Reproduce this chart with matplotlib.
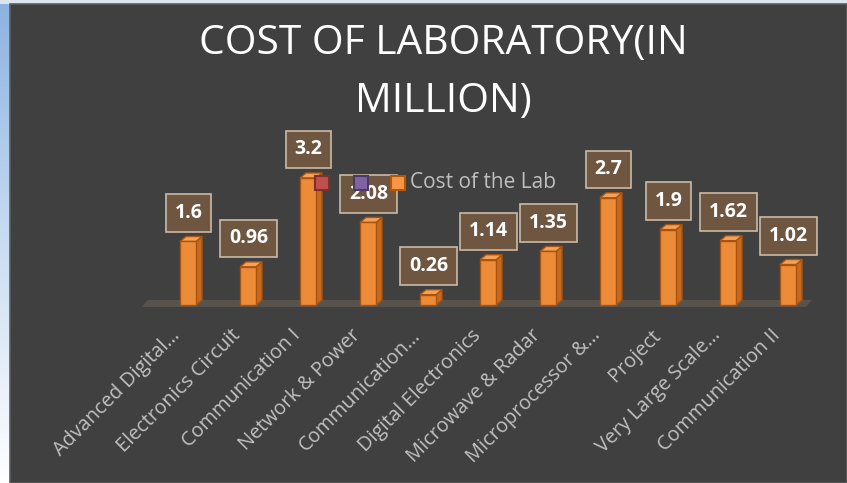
import matplotlib
matplotlib.use('Agg')
import matplotlib.pyplot as plt
import numpy as np
from matplotlib.patches import Polygon, Rectangle
from matplotlib.colors import LinearSegmentedColormap
from matplotlib.transforms import ScaledTranslation

categories = ["Advanced Digital…", "Electronics Circuit", "Communication I",
              "Network & Power", "Communication…", "Digital Electronics",
              "Microwave & Radar", "Microprocessor &…", "Project",
              "Very Large Scale…", "Communication II"]
costs = [1.6, 0.96, 3.2, 2.08, 0.26, 1.14, 1.35, 2.7, 1.9, 1.62, 1.02]
value_labels = ["1.6", "0.96", "3.2", "2.08", "0.26", "1.14", "1.35",
                "2.7", "1.9", "1.62", "1.02"]
series_name = "Cost of the Lab"
title_lines = ["COST OF LABORATORY(IN", "MILLION)"]

W, H = 847, 483
fig = plt.figure(figsize=(W / 100, H / 100), dpi=100)
fig.patch.set_facecolor('white')

# left gradient strip
gax = fig.add_axes([0, 0, 10 / W, 1], zorder=-10)
grad = np.linspace(0, 1, 256).reshape(-1, 1)
cmap = LinearSegmentedColormap.from_list('g', ['#8cb2e0', '#c9dcf2', '#ffffff'])
gax.imshow(grad, aspect='auto', cmap=cmap, extent=[0, 1, 0, 1], origin='upper')
gax.axis('off')

fig.patches.append(Rectangle((0, 1 - 4 / H), 1, 4 / H, transform=fig.transFigure,
                             facecolor='#dfe5ee', edgecolor='none', zorder=-8))
fig.patches.append(Rectangle((10 / W, 0), 1 - 10 / W, 1 - 4 / H, transform=fig.transFigure,
                             facecolor='#404040', edgecolor='#5e5e5e', lw=1.2, zorder=-7))

# main axes
base_px = 305
ppy = 39.7
ax = fig.add_axes([143 / W, (H - base_px) / H, 675 / W, 4 * ppy / H])
ax.set_xlim(-0.75, 10.5)
ax.set_ylim(0, 4)
ax.patch.set_alpha(0)
for s in ax.spines.values():
    s.set_visible(False)
ax.set_xticks([])
ax.set_yticks([])

# floor
floor = Polygon([(-0.77, -0.05), (10.3, -0.05), (10.4, 0.126), (-0.67, 0.126)],
                closed=True, facecolor='#57534c', edgecolor='none', zorder=1, clip_on=False)
ax.add_patch(floor)

w = 16 / 60
dx = 6 / 60
dy = 5 / ppy
x = np.arange(len(costs))
front_c = '#ec8c38'
side_c = '#c56a1f'
top_c = '#f3a25a'
edge_c = '#a9530f'

ax.bar(x, costs, width=w, color=front_c, edgecolor=edge_c, lw=1.0, zorder=3, clip_on=False)
for i, v in zip(x, costs):
    side = Polygon([(i + w / 2, 0), (i + w / 2 + dx, dy), (i + w / 2 + dx, v + dy), (i + w / 2, v)],
                   closed=True, facecolor=side_c, edgecolor=edge_c, lw=1.0, zorder=2.9, clip_on=False)
    top = Polygon([(i - w / 2, v), (i + w / 2, v), (i + w / 2 + dx, v + dy), (i - w / 2 + dx, v + dy)],
                  closed=True, facecolor=top_c, edgecolor=edge_c, lw=1.0, zorder=2.9, clip_on=False)
    ax.add_patch(side)
    ax.add_patch(top)

for i, v, lab in zip(x, costs, value_labels):
    ax.annotate(lab, xy=(i, v), xytext=(0.4, 20.5), textcoords='offset points',
                ha='center', va='center', fontsize=14, fontweight='bold',
                family='Open Sans', color='white', zorder=6,
                bbox=dict(boxstyle='square,pad=0.45', fc='#6e5641', ec='#c9baa7', lw=1.2),
                annotation_clip=False)

# category labels
for i, lab in zip(x, categories):
    tr = ax.transData + ScaledTranslation(-17.5 / 100, -20.5 / 100, fig.dpi_scale_trans)
    ax.text(i, 0, lab, transform=tr, rotation=45, ha='right', va='top',
            rotation_mode='anchor', fontsize=14.3, color='#c0c0c0', family='Open Sans')

# title
fig.text(443 / W, 1 - 54 / H, title_lines[0], ha='center', va='baseline',
         fontsize=29.3, color='white', family='Open Sans')
fig.text(443 / W, 1 - 112 / H, title_lines[1], ha='center', va='baseline',
         fontsize=29.3, color='white', family='Open Sans')

# legend (manual)
leg_y = 1 - 183 / H
leg_specs = [(322, '#c0504d', '#7d2f2c'), (361, '#8064a2', '#4b3a63'), (398, '#f79646', '#b65708')]
for px, fc, ec in leg_specs:
    fig.add_artist(plt.Line2D([px / W], [leg_y], transform=fig.transFigure, ls='none',
                              marker='s', ms=9.5, mfc=fc, mec=ec, mew=1.5, zorder=10))
fig.text(410 / W, leg_y, series_name, ha='left', va='center', fontsize=15,
         color='#bfbfbf', family='Open Sans', zorder=10)

fig.savefig('out.png', dpi=100, facecolor=fig.get_facecolor())
